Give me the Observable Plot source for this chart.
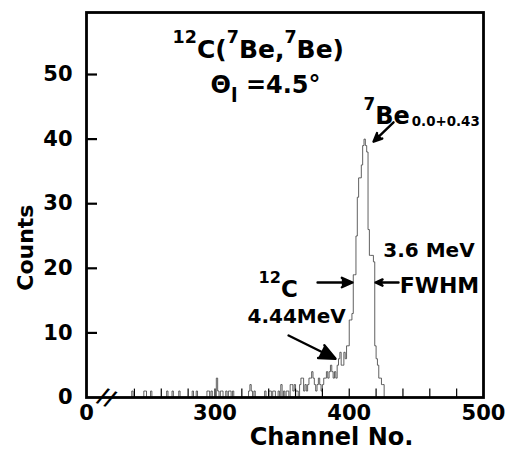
<!DOCTYPE html>
<html><head><meta charset="utf-8">
<script src="https://cdn.jsdelivr.net/npm/d3@7"></script>
<script src="https://cdn.jsdelivr.net/npm/@observablehq/plot@0.6"></script>
<style>
html,body{margin:0;padding:0;background:#fff;}
#chart svg{display:block;}
</style></head><body><div id="chart"></div>
<script>
// ---- data ----
const firstChannel = 230;
// counts per channel, channels 230 .. 430
const counts = [
  0,0,0,0,0,0,0,0,1,0,      // 230-239
  0,0,0,0,0,0,0,1,1,0,      // 240-249
  0,0,1,0,0,0,0,0,0,0,      // 250-259
  0,0,0,0,1,0,0,0,1,0,      // 260-269
  0,0,0,1,0,0,0,0,0,0,      // 270-279
  0,0,0,1,0,0,1,0,0,0,      // 280-289
  0,0,0,0,1,1,0,1,0,0,      // 290-299
  0,3,1,0,1,1,0,0,1,0,      // 300-309
  1,1,0,1,0,0,0,0,0,0,      // 310-319
  0,0,0,0,0,1,2,1,0,1,      // 320-329
  0,0,0,0,0,0,0,1,0,0,      // 330-339
  1,1,0,1,1,0,0,1,0,2,      // 340-349
  0,1,0,1,1,0,2,2,1,2,      // 350-359
  1,1,0,2,3,3,1,2,1,2,      // 360-369
  3,3,4,3,2,1,2,3,2,1,      // 370-379
  2,3,3,4,3,4,5,4,3,4,      // 380-389
  3,5,6,7,5,5,7,6,8,8,      // 390-399
  12,12,13,19,19,25,31,34,34,36, // 400-409
  39,40,39,38,26,22,22,22,21,8,  // 410-419
  6,5,3,3,2,2,0,0,0,0,0     // 420-430
];
const yTicks = [0, 10, 20, 30, 40, 50];
const xTickValues = [204.3, 300, 400, 500];
const xTickLabels = ["0", "300", "400", "500"];
const xMinorTicks = [240, 260, 280, 300, 320, 340, 360, 380, 400, 420, 440, 460, 480];
const xDomain = [204.3, 500];
const yDomain = [0, 59.6];
const yLabel = "Counts";
const xLabel = "Channel No.";

// annotation texts (^{..} superscript, _{..} subscript)
const noteText = ["^{12}C(^{7}Be,^{7}Be)", "Θ_{l} =4.5°", "^{7}Be_{0.0+0.43}", "3.6 MeV", "FWHM", "^{12}C", "4.44MeV"];
const noteX = [268.4, 296.7, 410.6, 459.4, 467.2, 332.4, 324.2];
const noteY = [52.5, 47.2, 42.3, 21.7, 16.1, 15.5, 11.6];
const noteSize = [25, 24, 24, 20, 22, 23, 20];
const noteAnchor = ["start", "start", "start", "middle", "middle", "start", "start"];

const arrowX1 = [433.0, 436.7, 376.4, 354.8];
const arrowY1 = [42.6, 17.8, 17.8, 9.6];
const arrowX2 = [418.1, 419.6, 402.4, 389.8];
const arrowY2 = [39.6, 17.8, 17.8, 6.0];

// ---- tables built from the arrays ----
const hist = counts.map((c, i) => ({channel: firstChannel + i, count: c}));
const notes = noteText.map((t, i) => ({t, x: noteX[i], y: noteY[i], s: noteSize[i], a: noteAnchor[i]}));
const arrows = arrowX1.map((x1, i) => ({x1, y1: arrowY1[i], x2: arrowX2[i], y2: arrowY2[i]}));

const font = "'DejaVu Sans', sans-serif";

const chart = Plot.plot({
  width: 505, height: 458,
  marginLeft: 86, marginRight: 22, marginTop: 12, marginBottom: 61,
  x: {domain: xDomain},
  y: {domain: yDomain},
  style: {fontFamily: font, fontWeight: "bold", fontSize: "21px", background: "#fff", color: "#000"},
  marks: [
    Plot.line(hist, {x: "channel", y: "count", curve: "step-after", stroke: "#444", strokeWidth: 0.85}),
    Plot.ruleX(xMinorTicks, {y1: 0, y2: 1.3, stroke: "#000", strokeWidth: 1.2}),
    Plot.ruleY(yTicks.slice(1), {x1: xDomain[0], x2: xDomain[0] + 8.2, stroke: "#000", strokeWidth: 2.2}),
    Plot.frame({stroke: "#000", strokeWidth: 2.8}),
    Plot.axisY(yTicks, {tickSize: 0, tickPadding: 14, label: null}),
    Plot.axisX(xTickValues, {tickSize: 0, tickPadding: 8, label: null,
      tickFormat: d => xTickLabels[xTickValues.indexOf(d)]}),
    Plot.text(["//"], {x: xDomain[0] + 15, frameAnchor: "bottom", fontSize: 22, rotate: 22, lineAnchor: "middle"}),
    Plot.text([yLabel], {x: xDomain[0], y: 23.2, dx: -61, rotate: -90, fontSize: 22, lineAnchor: "middle"}),
    Plot.text([xLabel], {x: 386.8, frameAnchor: "bottom", dy: 40, fontSize: 24, lineAnchor: "middle"}),
    Plot.text(notes.filter(d => d.a === "start"), {x: "x", y: "y", text: "t", fontSize: d => d.s, textAnchor: "start", lineAnchor: "bottom"}),
    Plot.text(notes.filter(d => d.a === "middle"), {x: "x", y: "y", text: "t", fontSize: d => d.s, textAnchor: "middle", lineAnchor: "bottom"}),
    Plot.arrow(arrows, {x1: "x1", y1: "y1", x2: "x2", y2: "y2", stroke: "#000", fill: "#000",
      strokeWidth: 2.4, headLength: 11, headAngle: 48})
  ]
});

// superscripts / subscripts
d3.select(chart).selectAll("text").each(function () {
  const t = this.textContent;
  if (!/[\^_]\{/.test(t)) return;
  const fs = parseFloat(this.getAttribute("font-size")) || parseFloat(getComputedStyle(this).fontSize) || 20;
  const el = d3.select(this);
  el.text(null);
  const re = /([\^_])\{([^}]*)\}|([^\^_]+)/g;
  let m;
  while ((m = re.exec(t))) {
    if (m[3]) { el.append("tspan").text(m[3]); continue; }
    const sup = m[1] === "^";
    const isL = m[2] === "l";
    el.append("tspan")
      .attr("font-size", (fs * (sup ? 0.7 : (isL ? 0.8 : 0.56))).toFixed(1) + "px")
      .attr("baseline-shift", (sup ? fs * 0.6 : -fs * (isL ? 0.38 : 0.1)).toFixed(1) + "px")
      .attr("dx", (!sup && !isL) ? "2" : null)
      .text(m[2]);
  }
});

document.getElementById("chart").appendChild(chart);
</script></body></html>
